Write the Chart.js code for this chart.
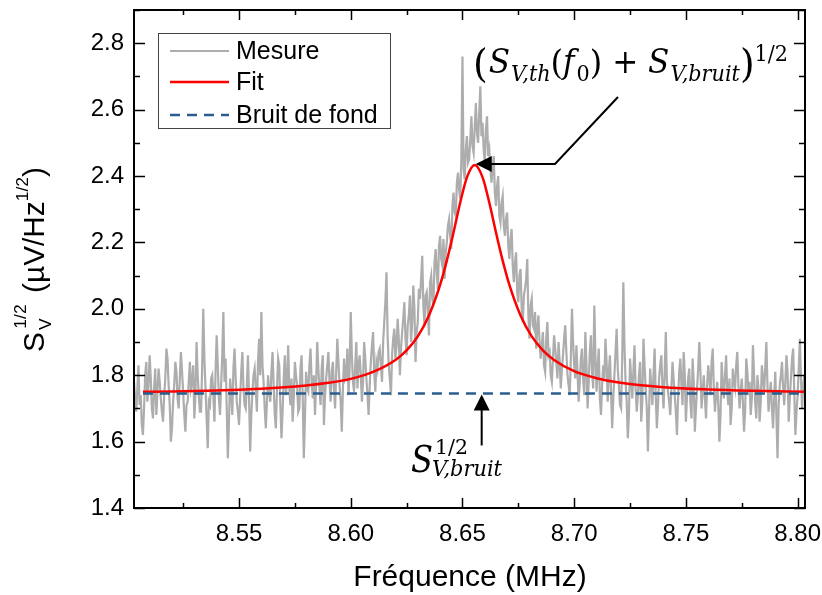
<!DOCTYPE html>
<html>
<head>
<meta charset="utf-8">
<script src="https://cdn.jsdelivr.net/npm/chart.js@4.4.1/dist/chart.umd.min.js"></script>
<style>
    html, body { margin: 0; padding: 0; background: #fff; }
    #wrap { width: 822px; height: 595px; }
</style>
</head>
<body>
<div id="wrap"><canvas id="chart" width="822" height="595"></canvas></div>
<script>
// measured spectrum, one point every 0.5 kHz from 8.503 MHz
var freqStart = 8.503;
var freqStep = 0.0005;
var measure = [
    1.78, 1.73, 1.69, 1.76, 1.83, 1.71, 1.74, 1.65, 1.62, 1.70, 1.80, 1.84, 1.72, 1.77, 1.86, 1.79, 1.70, 1.67, 1.76, 1.82,
    1.68, 1.75, 1.82, 1.78, 1.73, 1.69, 1.66, 1.74, 1.79, 1.88, 1.85, 1.77, 1.71, 1.60, 1.64, 1.72, 1.77, 1.84, 1.81, 1.73,
    1.70, 1.79, 1.87, 1.81, 1.75, 1.68, 1.63, 1.71, 1.72, 1.78, 1.84, 1.76, 1.78, 1.83, 1.67, 1.74, 1.90, 1.80, 1.74, 1.69,
    1.69, 1.82, 2.00, 1.85, 1.76, 1.67, 1.58, 1.72, 1.71, 1.79, 1.80, 1.74, 1.66, 1.81, 1.92, 1.83, 1.73, 1.68, 1.77, 1.86,
    1.99, 1.78, 1.85, 1.70, 1.55, 1.66, 1.79, 1.75, 1.68, 1.82, 1.88, 1.79, 1.72, 1.69, 1.65, 1.73, 1.81, 1.87, 1.76, 1.71,
    1.70, 1.77, 1.86, 1.73, 1.57, 1.68, 1.75, 1.80, 1.82, 1.76, 1.69, 1.84, 1.91, 1.80, 1.99, 1.83, 1.78, 1.70, 1.64, 1.72,
    1.80, 1.75, 1.72, 1.81, 1.87, 1.77, 1.68, 1.64, 1.76, 1.85, 1.83, 1.71, 1.61, 1.69, 1.79, 1.86, 1.74, 1.78, 1.89, 1.76,
    1.71, 1.79, 1.66, 1.73, 1.84, 1.80, 1.77, 1.69, 1.70, 1.82, 1.86, 1.74, 1.55, 1.67, 1.81, 1.76, 1.75, 1.83, 1.88, 1.78,
    1.73, 1.80, 1.68, 1.77, 1.90, 1.82, 1.76, 1.71, 1.82, 1.86, 1.65, 1.74, 1.79, 1.83, 1.87, 1.78, 1.72, 1.81, 1.84, 1.76,
    1.70, 1.81, 1.91, 1.84, 1.77, 1.72, 1.63, 1.76, 1.85, 1.79, 1.80, 1.88, 1.74, 1.82, 1.99, 1.86, 1.78, 1.75, 1.83, 1.90,
    1.76, 1.83, 1.86, 1.80, 1.72, 1.78, 1.90, 1.85, 1.79, 1.74, 1.68, 1.77, 1.84, 1.89, 1.93, 1.81, 1.75, 1.84, 1.82, 1.87,
    1.88, 1.83, 1.78, 1.90, 1.96, 2.02, 2.11, 1.92, 1.83, 1.79, 1.74, 1.86, 1.91, 1.94, 1.85, 1.89, 1.97, 1.91, 1.80, 1.88,
    1.93, 1.97, 2.02, 1.91, 1.86, 1.95, 1.98, 2.04, 1.90, 1.96, 2.07, 2.00, 1.84, 1.93, 1.96, 2.06, 2.03, 2.09, 2.16, 2.01,
    1.95, 2.04, 2.05, 1.99, 1.92, 2.08, 2.10, 2.03, 2.01, 2.14, 2.18, 2.11, 2.06, 2.19, 2.22, 2.15, 2.13, 2.21, 2.09, 2.17,
    2.20, 2.25, 2.27, 2.22, 2.18, 2.31, 2.35, 2.29, 2.28, 2.38, 2.41, 2.36, 2.33, 2.45, 2.76, 2.42, 2.39, 2.48, 2.52, 2.44,
    2.45, 2.51, 2.58, 2.49, 2.47, 2.55, 2.62, 2.53, 2.50, 2.59, 2.67, 2.52, 2.56, 2.48, 2.44, 2.54, 2.58, 2.46, 2.48, 2.42,
    2.38, 2.43, 2.46, 2.35, 2.31, 2.37, 2.40, 2.28, 2.26, 2.32, 2.34, 2.25, 2.22, 2.27, 2.29, 2.19, 2.15, 2.21, 2.24, 2.13,
    2.08, 2.14, 2.17, 2.05, 2.02, 2.10, 2.12, 2.00, 1.96, 2.04, 2.06, 2.09, 2.15, 1.98, 1.91, 2.01, 2.03, 1.95, 1.94, 1.99,
    1.88, 1.94, 1.98, 1.90, 1.85, 1.89, 1.93, 1.83, 1.81, 1.91, 1.96, 1.86, 1.87, 1.80, 1.78, 1.85, 1.92, 1.88, 1.84, 1.79,
    1.90, 1.84, 1.76, 1.82, 1.86, 1.91, 1.95, 1.87, 1.80, 1.77, 1.74, 1.85, 2.00, 1.90, 1.83, 1.79, 1.89, 1.81, 1.72, 1.78,
    1.85, 1.88, 1.79, 1.74, 1.93, 1.83, 1.70, 1.78, 1.87, 1.92, 1.81, 1.76, 2.01, 1.86, 1.75, 1.82, 1.88, 1.73, 1.68, 1.77,
    1.83, 1.79, 1.91, 1.84, 1.72, 1.81, 1.86, 1.75, 1.64, 1.73, 1.80, 1.87, 1.94, 1.82, 1.77, 1.71, 1.70, 1.85, 2.08, 1.89,
    1.78, 1.72, 1.61, 1.68, 1.85, 1.79, 1.73, 1.81, 1.89, 1.76, 1.69, 1.74, 1.80, 1.84, 1.66, 1.72, 1.91, 1.83, 1.76, 1.70,
    1.57, 1.69, 1.82, 1.77, 1.71, 1.80, 1.88, 1.74, 1.64, 1.71, 1.79, 1.83, 1.86, 1.76, 1.70, 1.81, 1.93, 1.78, 1.75, 1.72,
    1.68, 1.76, 1.84, 1.79, 1.74, 1.69, 1.62, 1.73, 1.81, 1.85, 1.77, 1.71, 1.87, 1.80, 1.66, 1.74, 1.79, 1.82, 1.72, 1.67,
    1.85, 1.78, 1.63, 1.70, 1.76, 1.82, 1.90, 1.81, 1.70, 1.75, 1.80, 1.73, 1.67, 1.77, 1.83, 1.79, 1.74, 1.84, 1.88, 1.76,
    1.69, 1.74, 1.78, 1.71, 1.60, 1.68, 1.84, 1.77, 1.73, 1.80, 1.86, 1.75, 1.71, 1.79, 1.65, 1.70, 1.82, 1.78, 1.76, 1.83,
    1.87, 1.77, 1.70, 1.75, 1.79, 1.72, 1.63, 1.69, 1.85, 1.81, 1.74, 1.78, 1.68, 1.73, 1.89, 1.80, 1.72, 1.67, 1.80, 1.76,
    1.66, 1.72, 1.83, 1.79, 1.75, 1.82, 1.90, 1.77, 1.69, 1.74, 1.78, 1.70, 1.64, 1.73, 1.81, 1.68, 1.55, 1.71, 1.77, 1.80,
    1.84, 1.76, 1.71, 1.78, 1.86, 1.81, 1.66, 1.73, 1.79, 1.85, 1.88, 1.75, 1.62, 1.69, 1.74, 1.82, 1.91, 1.79, 1.70, 1.77,
    1.80
];

// fitted curve
var fitFreq = [
    8.507, 8.52, 8.54, 8.56, 8.58, 8.59, 8.60, 8.61, 8.62, 8.625,
    8.63, 8.635, 8.64, 8.643, 8.646, 8.649, 8.652, 8.6555, 8.659, 8.662,
    8.665, 8.668, 8.671, 8.676, 8.681, 8.686, 8.691, 8.70, 8.71, 8.72,
    8.74, 8.76, 8.78, 8.803
];
var fitValues = [
    1.750, 1.751, 1.754, 1.759, 1.769, 1.777, 1.789, 1.810, 1.846, 1.875,
    1.917, 1.980, 2.072, 2.145, 2.230, 2.320, 2.396, 2.433, 2.396, 2.320,
    2.230, 2.145, 2.072, 1.980, 1.917, 1.875, 1.846, 1.812, 1.791, 1.778,
    1.764, 1.757, 1.753, 1.750
];

// background noise level
var noiseFreq = [8.507, 8.803];
var noiseLevel = [1.745, 1.745];

var xTicks = [8.55, 8.60, 8.65, 8.70, 8.75, 8.80];
var yTicks = [1.4, 1.6, 1.8, 2.0, 2.2, 2.4, 2.6, 2.8];

var seriesNames = ['Mesure', 'Fit', 'Bruit de fond'];

var sans = '"Liberation Sans", Arial, sans-serif';

function toPoints(xs, ys) {
    return ys.map(function (v, i) { return {x: xs[i], y: v}; });
}

var measureFreq = measure.map(function (v, i) { return freqStart + i * freqStep; });

var framePlugin = {
    id: 'frame',
    afterDatasetsDraw: function (chart) {
        var ctx = chart.ctx;
        var a = chart.chartArea;
        var xs = chart.scales.x, ys = chart.scales.y;
        ctx.save();
        ctx.strokeStyle = '#000';
        ctx.lineWidth = 2;
        ctx.strokeRect(a.left, a.top, a.right - a.left, a.bottom - a.top);
        ctx.lineWidth = 1.5;
        ctx.beginPath();
        xTicks.forEach(function (t) {
            var px = Math.round(xs.getPixelForValue(t)) + 0.5;
            ctx.moveTo(px, a.bottom); ctx.lineTo(px, a.bottom - 10);
            ctx.moveTo(px, a.top); ctx.lineTo(px, a.top + 10);
            var pm = Math.round(xs.getPixelForValue(t - 0.025)) + 0.5;
            ctx.moveTo(pm, a.bottom); ctx.lineTo(pm, a.bottom - 5);
            ctx.moveTo(pm, a.top); ctx.lineTo(pm, a.top + 5);
        });
        yTicks.forEach(function (t) {
            var py = Math.round(ys.getPixelForValue(t)) + 0.5;
            ctx.moveTo(a.left, py); ctx.lineTo(a.left + 11, py);
            ctx.moveTo(a.right, py); ctx.lineTo(a.right - 11, py);
            var pm = Math.round(ys.getPixelForValue(t + 0.1)) + 0.5;
            ctx.moveTo(a.left, pm); ctx.lineTo(a.left + 6, pm);
            ctx.moveTo(a.right, pm); ctx.lineTo(a.right - 6, pm);
        });
        ctx.stroke();
        ctx.restore();
    }
};

// draws a run of text pieces; if width is given, the run is stretched to it
function drawPieces(ctx, x, y, pieces, width) {
    var w = 0;
    pieces.forEach(function (p) { ctx.font = p.font; w += ctx.measureText(p.t).width + (p.gap || 0); });
    ctx.save();
    ctx.translate(x, y);
    if (width) ctx.scale(width / w, 1);
    var cx = 0;
    pieces.forEach(function (p) {
        ctx.font = p.font;
        ctx.fillText(p.t, cx, p.dy || 0);
        cx += ctx.measureText(p.t).width + (p.gap || 0);
    });
    ctx.restore();
    return w;
}

function arrowHead(ctx, tx, ty, dir) {
    ctx.beginPath();
    if (dir === 'left') {
        ctx.moveTo(tx, ty); ctx.lineTo(tx + 16, ty - 8); ctx.lineTo(tx + 16, ty + 8);
    } else {
        ctx.moveTo(tx, ty); ctx.lineTo(tx - 8, ty + 16); ctx.lineTo(tx + 8, ty + 16);
    }
    ctx.closePath();
    ctx.fill();
}

var decorPlugin = {
    id: 'decor',
    afterDraw: function (chart) {
        var ctx = chart.ctx;
        var xs = chart.scales.x, ys = chart.scales.y;
        var ds = chart.data.datasets;
        ctx.save();

        // legend box
        ctx.strokeStyle = '#444';
        ctx.lineWidth = 1;
        ctx.strokeRect(158.5, 33.5, 232, 95);
        ctx.font = '25px ' + sans;
        ctx.textBaseline = 'middle';
        [51, 82, 115].forEach(function (ly, i) {
            var d = ds[i];
            ctx.strokeStyle = d.borderColor;
            ctx.lineWidth = d.borderWidth;
            ctx.setLineDash(d.borderDash || []);
            ctx.beginPath();
            ctx.moveTo(170, ly); ctx.lineTo(229, ly);
            ctx.stroke();
            ctx.setLineDash([]);
            ctx.fillStyle = '#000';
            ctx.fillText(d.label, 236, ly + 1);
        });

        // x title
        ctx.fillStyle = '#000';
        ctx.textBaseline = 'alphabetic';
        ctx.textAlign = 'center';
        ctx.font = '30px ' + sans;
        ctx.fillText('Fréquence (MHz)', 470, 586);
        ctx.textAlign = 'left';

        // y title, rotated
        var big = '29px ' + sans;
        var small = '17px ' + sans;
        var yPieces = [
            {t: 'S', font: big, gap: 2},
            {t: 'V', font: small, dy: 7, gap: -10},
            {t: '1/2', font: small, dy: -18, gap: 3},
            {t: ' (µV/Hz', font: big},
            {t: '1/2', font: small, dy: -16},
            {t: ')', font: big}
        ];
        ctx.save();
        ctx.translate(44, 260);
        ctx.rotate(-Math.PI / 2);
        drawPieces(ctx, -92, 0, yPieces, 185);
        ctx.restore();

        // annotation at the resonance peak
        var tipX = xs.getPixelForValue(fitFreq[17]);
        var tipY = ys.getPixelForValue(fitValues[17]);
        ctx.strokeStyle = '#000';
        ctx.fillStyle = '#000';
        ctx.lineWidth = 2;
        ctx.beginPath();
        ctx.moveTo(tipX + 14, tipY - 1);
        ctx.lineTo(555, tipY - 1);
        ctx.lineTo(618, 97);
        ctx.stroke();
        arrowHead(ctx, tipX + 1, tipY - 1, 'left');

        var serifI = function (s) { return 'italic ' + s + 'px "DejaVu Serif", "Liberation Serif", serif'; };
        var serif = function (s) { return s + 'px "DejaVu Serif", "Liberation Serif", serif'; };
        drawPieces(ctx, 473, 73, [
            {t: '(', font: serif(40), dy: 4, gap: 1},
            {t: 'S', font: serifI(33), gap: 1},
            {t: 'V,th', font: serifI(22), dy: 8},
            {t: '(', font: serif(34), dy: 1},
            {t: 'f', font: serifI(33), gap: 2},
            {t: '0', font: serif(22), dy: 8},
            {t: ')', font: serif(34), dy: 1},
            {t: ' + ', font: serif(33)},
            {t: 'S', font: serifI(33), gap: 1},
            {t: 'V,bruit', font: serifI(22), dy: 8},
            {t: ')', font: serif(40), dy: 4},
            {t: '1/2', font: serif(22), dy: -12}
        ], 315);

        // annotation at the noise floor
        var bx = xs.getPixelForValue(8.6586);
        var by = ys.getPixelForValue(noiseLevel[0]);
        ctx.beginPath();
        ctx.moveTo(bx, by + 14);
        ctx.lineTo(bx, by + 52);
        ctx.stroke();
        arrowHead(ctx, bx, by + 1, 'up');
        drawPieces(ctx, 411, 472, [{t: 'S', font: serifI(37)}], 22);
        drawPieces(ctx, 432, 476, [{t: 'V,bruit', font: serifI(22)}], 70);
        drawPieces(ctx, 435, 454, [{t: '1/2', font: serif(21)}], 33);

        ctx.restore();
    }
};

var ctx = document.getElementById('chart');
var chart = new Chart(ctx, {
    type: 'line',
    data: {
        datasets: [
            {
                label: seriesNames[0],
                data: toPoints(measureFreq, measure),
                borderColor: '#adadad',
                borderWidth: 2.2,
                pointRadius: 0,
                tension: 0,
                order: 3
            },
            {
                label: seriesNames[1],
                data: toPoints(fitFreq, fitValues),
                borderColor: '#ff0000',
                borderWidth: 2.5,
                pointRadius: 0,
                cubicInterpolationMode: 'monotone',
                order: 2
            },
            {
                label: seriesNames[2],
                data: toPoints(noiseFreq, noiseLevel),
                borderColor: '#2b5e8e',
                borderWidth: 2.5,
                borderDash: [10, 7],
                pointRadius: 0,
                order: 1
            }
        ]
    },
    options: {
        responsive: false,
        animation: false,
        events: [],
        layout: {padding: {left: 0, top: 10, right: 17, bottom: 0}},
        plugins: {
            legend: {display: false},
            title: {display: false},
            tooltip: {enabled: false}
        },
        scales: {
            x: {
                type: 'linear',
                min: 8.503,
                max: 8.8033,
                grid: {display: false, drawTicks: false},
                border: {display: false},
                afterBuildTicks: function (axis) {
                    axis.ticks = xTicks.map(function (v) { return {value: v}; });
                },
                afterFit: function (axis) {
                    axis.height = 87;
                    axis.paddingLeft = 0;
                    axis.paddingRight = 0;
                },
                ticks: {
                    padding: 12,
                    maxRotation: 0,
                    color: '#000',
                    font: {family: sans, size: 24},
                    callback: function (v) { return v.toFixed(2); }
                }
            },
            y: {
                type: 'linear',
                min: 1.4,
                max: 2.9,
                grid: {display: false, drawTicks: false},
                border: {display: false},
                afterBuildTicks: function (axis) {
                    axis.ticks = yTicks.map(function (v) { return {value: v}; });
                },
                afterFit: function (axis) {
                    axis.width = 134;
                    axis.paddingTop = 0;
                    axis.paddingBottom = 0;
                },
                ticks: {
                    padding: 10,
                    color: '#000',
                    font: {family: sans, size: 24},
                    callback: function (v) { return v.toFixed(1); }
                }
            }
        }
    },
    plugins: [framePlugin, decorPlugin]
});
</script>
</body>
</html>
